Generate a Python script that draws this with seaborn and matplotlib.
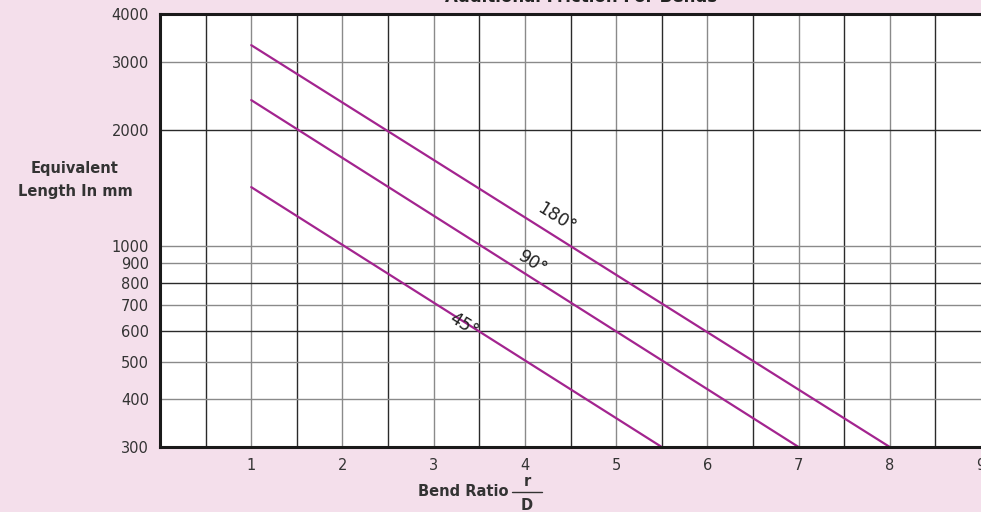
import pandas as pd
import matplotlib.pyplot as plt
import seaborn as sns
from matplotlib.ticker import FixedLocator, NullLocator, NullFormatter

# values (end points of each straight line on log scale)
bend_ratio_45 = [1, 5.5]
length_45 = [1420, 300]
bend_ratio_90 = [1, 7]
length_90 = [2390, 300]
bend_ratio_180 = [1, 8]
length_180 = [3320, 300]

y_ticks = [300, 400, 500, 600, 700, 800, 900, 1000, 2000, 3000, 4000]
x_ticks = [1, 2, 3, 4, 5, 6, 7, 8, 9]

df = pd.concat([
    pd.DataFrame({'ratio': bend_ratio_45, 'length': length_45, 'angle': '45°'}),
    pd.DataFrame({'ratio': bend_ratio_90, 'length': length_90, 'angle': '90°'}),
    pd.DataFrame({'ratio': bend_ratio_180, 'length': length_180, 'angle': '180°'}),
])

sns.set_style("white")
plt.rcParams['font.family'] = ['DejaVu Sans']

bg = '#f4dfeb'
line_col = '#a3248f'

fig = plt.figure(figsize=(9.81, 5.12), dpi=100, facecolor=bg)
ax = fig.add_axes([160 / 981, 65 / 512, 821 / 981, 433 / 512])
ax.set_facecolor('white')

sns.lineplot(data=df, x='ratio', y='length', units='angle', estimator=None,
             color=line_col, linewidth=1.6, ax=ax, legend=False)

ax.set_yscale('log')
ax.set_xlim(0, 9)
ax.set_ylim(300, 4000)

# grid lines: every half unit on x, the tick values on y
for xv in [i * 0.5 for i in range(1, 18)]:
    c = '#8a8a8a' if xv == int(xv) else '#2a2a2a'
    ax.axvline(xv, color=c, linewidth=1.0, zorder=0)
for yv in y_ticks[1:-1]:
    c = '#2a2a2a' if yv in (600, 800, 2000) else '#8a8a8a'
    ax.axhline(yv, color=c, linewidth=1.0, zorder=0)

ax.yaxis.set_major_locator(FixedLocator(y_ticks))
ax.yaxis.set_minor_locator(NullLocator())
ax.yaxis.set_minor_formatter(NullFormatter())
ax.set_yticklabels([str(v) for v in y_ticks])
ax.set_xticks(x_ticks)
ax.set_xticklabels([str(v) for v in x_ticks])
ax.tick_params(axis='both', length=0, labelsize=10.5, colors='#333333', pad=8)

for s in ['left', 'bottom', 'top']:
    ax.spines[s].set_color('#1a1a1a')
    ax.spines[s].set_linewidth(2.2)
ax.spines['right'].set_visible(False)

ax.set_xlabel('')
ax.set_ylabel('')

# line labels
ax.text(4.35, 1180, '180°', rotation=-32, fontsize=12.5, color='#222222',
        ha='center', va='center')
ax.text(4.08, 905, '90°', rotation=-32, fontsize=12.5, color='#222222',
        ha='center', va='center')
ax.text(3.33, 622, '45°', rotation=-32, fontsize=12.5, color='#222222',
        ha='center', va='center')

fig.text(75 / 981, 1 - 180 / 512, 'Equivalent\nLength In mm', ha='center',
         va='center', fontsize=10.5, fontweight='bold', color='#333333',
         linespacing=1.6)
fig.text(508 / 981, 1 - 492 / 512, 'Bend Ratio', ha='right', va='center',
         fontsize=10.5, fontweight='bold', color='#333333')
fig.text(527 / 981, 1 - 481 / 512, 'r', ha='center', va='center',
         fontsize=10.5, fontweight='bold', color='#333333')
fig.text(527 / 981, 1 - 505 / 512, 'D', ha='center', va='center',
         fontsize=10.5, fontweight='bold', color='#333333')
fig.add_artist(plt.Line2D([512 / 981, 542 / 981], [1 - 492 / 512, 1 - 492 / 512],
                          color='#333333', linewidth=1.0))

fig.text(581 / 981, 1 + 3 / 512, 'Additional Friction For Bends', ha='center',
         va='center', fontsize=12, fontweight='bold', color='#222222')

fig.savefig('out.png', dpi=100, facecolor=bg)
